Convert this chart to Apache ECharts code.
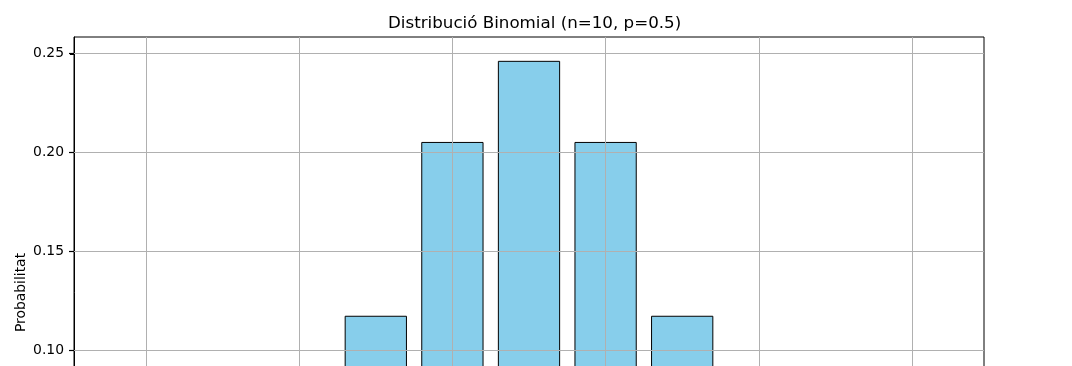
<!DOCTYPE html>
<html>
<head>
<meta charset="utf-8">
<script src="https://cdn.jsdelivr.net/npm/echarts@6/dist/echarts.min.js"></script>
<style>
html,body{margin:0;padding:0;background:#fff;width:1072px;height:366px;overflow:hidden;}
#chart{width:1072px;height:600px;}
</style>
</head>
<body>
<div id="chart"></div>
<script>
const titleText = "Distribució Binomial (n=10, p=0.5)";
const yLabel = "Probabilitat";
const kValues = [0, 1, 2, 3, 4, 5, 6, 7, 8, 9, 10];
const probabilities = [0.000977, 0.009766, 0.043945, 0.117188, 0.205078, 0.246094, 0.205078, 0.117188, 0.043945, 0.009766, 0.000977];
const xGridTicks = [0, 2, 4, 6, 8, 10];
const yGridTicks = [0, 0.05, 0.10, 0.15, 0.20, 0.25];
const yTickInterval = 0.05;
const xMin = -0.94, xMax = 10.94;
const yMin = 0, yMax = 0.2584;
const barWidthUnits = 0.8;

const chart = echarts.init(document.getElementById('chart'), null, {renderer: 'canvas'});
const font = 'DejaVu Sans';
chart.setOption({
  animation: false,
  backgroundColor: '#ffffff',
  title: {
    text: titleText,
    left: 383, top: 10,
    textStyle: {fontFamily: font, fontSize: 16.7, fontWeight: 'normal', color: '#000'}
  },
  grid: {left: 74, right: 88, top: 37, bottom: 52,
         show: true, borderColor: '#000', borderWidth: 1, backgroundColor: 'transparent'},
  xAxis: {type: 'value', min: xMin, max: xMax,
          axisLine: {show: false}, axisTick: {show: false}, axisLabel: {show: false}, splitLine: {show: false}},
  yAxis: {
    type: 'value', min: yMin, max: yMax, interval: yTickInterval,
    name: yLabel, nameLocation: 'middle', nameGap: 46, nameMoveOverlap: false,
    nameTextStyle: {fontFamily: font, fontSize: 13.9, color: '#000'},
    axisLine: {show: true, onZero: false, lineStyle: {color: '#000', width: 1}},
    axisTick: {show: true, inside: false, length: 5, lineStyle: {color: '#000', width: 1.2}},
    axisLabel: {
      fontFamily: font, fontSize: 13.9, color: '#000', margin: 10,
      showMaxLabel: false,
      formatter: v => (Math.abs(v / yTickInterval - Math.round(v / yTickInterval)) < 1e-6 ? v.toFixed(2) : '')
    },
    splitLine: {show: false}
  },
  series: [
    {
      type: 'custom', z: 2,
      data: kValues.map((k, i) => [k, probabilities[i]]),
      renderItem: function (params, api) {
        const x = api.value(0), y = api.value(1);
        const top = api.coord([x - barWidthUnits / 2, y]);
        const bot = api.coord([x + barWidthUnits / 2, 0]);
        return {
          type: 'rect',
          shape: {x: top[0], y: top[1], width: bot[0] - top[0], height: bot[1] - top[1]},
          style: {fill: '#87ceeb', stroke: '#000', lineWidth: 1}
        };
      }
    },
    {
      type: 'custom', z: 10, clip: false, silent: true,
      data: yGridTicks.map(v => [xMin, v]),
      renderItem: function (params, api) {
        const p = api.coord([api.value(0), api.value(1)]);
        return {
          type: 'rect', z2: 100,
          shape: {x: p[0] - 4, y: Math.round(p[1]), width: 4, height: 1},
          style: {fill: '#000'}
        };
      }
    },
    {
      type: 'line', z: 5, data: [], silent: true,
      markLine: {
        silent: true, symbol: 'none', animation: false,
        label: {show: false},
        lineStyle: {color: '#b0b0b0', width: 1, type: 'solid'},
        data: xGridTicks.map(v => ({xAxis: v})).concat(yGridTicks.map(v => ({yAxis: v})))
      }
    }
  ]
});
</script>
</body>
</html>
